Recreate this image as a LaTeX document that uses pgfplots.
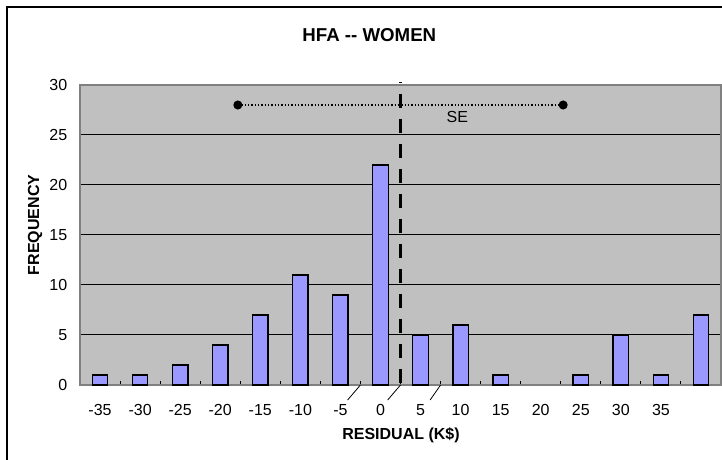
\documentclass[border=0pt]{standalone}
\usepackage{fontspec}
\setmainfont{Liberation Sans}
\usepackage{pgfplots}
\pgfplotsset{compat=1.18}
\definecolor{barblue}{HTML}{9999FF}
\definecolor{plotgray}{HTML}{C0C0C0}
\definecolor{axgray}{HTML}{808080}
\begin{document}
\begin{tikzpicture}[x=1pt,y=1pt]
\draw[black, line width=1.3pt] (5.25,339.75) -- (600,339.75) -- (600,-20) -- (5.25,-20) -- cycle;
\begin{axis}[
  at={(60pt,56.25pt)}, anchor=south west,
  scale only axis, width=480.75pt, height=225pt,
  xmin=-37.5, xmax=42.5, ymin=0, ymax=30,
  clip=false,
  axis background/.style={fill=plotgray},
  axis line style={draw=axgray, line width=0.9pt},
  xtick={-35,-30,-25,-20,-15,-10,-5,0,5,10,15,20,25,30,35},
  minor xtick={-32.5,-27.5,-22.5,-17.5,-12.5,-7.5,-2.5,2.5,7.5,12.5,17.5,22.5,27.5,32.5,37.5},
  ytick={0,5,10,15,20,25,30},
  xtick pos=bottom, ytick pos=left,
  major tick length=0pt, minor tick length=3pt,
  tick align=inside,
  minor tick style={black, line width=0.75pt},
  ymajorgrids,
  major grid style={black, line width=0.75pt},
  /pgf/number format/assume math mode=true,
  tick label style={font=\fontsize{12}{14}\selectfont},
  xticklabel style={anchor=center, yshift=-18.75pt},
  yticklabel style={anchor=east, xshift=-6pt},
]
\addplot[ybar, bar width=11.6pt, fill=barblue, draw=black, line width=1pt]
  coordinates {(-35,1) (-30,1) (-25,2) (-20,4) (-15,7) (-10,11) (-5,9) (0,22)
               (5,5) (10,6) (15,1) (25,1) (30,5) (35,1) (40,7)};
\addplot[black, line width=1.5pt, dash pattern=on 1.2pt off 1.3pt, mark=*, mark size=2.6pt, mark options={solid}]
  coordinates {(-17.8,28) (22.8,28)};
\addplot[black, line width=2.5pt, dash pattern=on 10.5pt off 8.25pt, dash phase=9.75pt]
  coordinates {(2.5,30.3) (2.5,0)};
\addplot[black, line width=0.6pt] coordinates {(-2.5,0) (-4.1,-1.5)};
\addplot[black, line width=0.6pt] coordinates {(2.5,0) (0.9,-1.5)};
\addplot[black, line width=0.6pt] coordinates {(7.5,0) (6.2,-1.5)};
\node[font=\fontsize{12}{14}\selectfont] at (axis cs:9.6,26.8) {SE};
\end{axis}
\node[font=\bfseries\fontsize{14}{16}\selectfont] at (277,318.75) {HFA -{}- WOMEN};
\node[font=\bfseries\fontsize{12}{14}\selectfont] at (300.75,18.75) {RESIDUAL (K\$)};
\node[font=\bfseries\fontsize{12}{14}\selectfont, rotate=90] at (26.25,176.25) {FREQUENCY};
\pgfresetboundingbox
\path[use as bounding box] (0,0) rectangle (541.5,345);
\end{tikzpicture}
\end{document}
